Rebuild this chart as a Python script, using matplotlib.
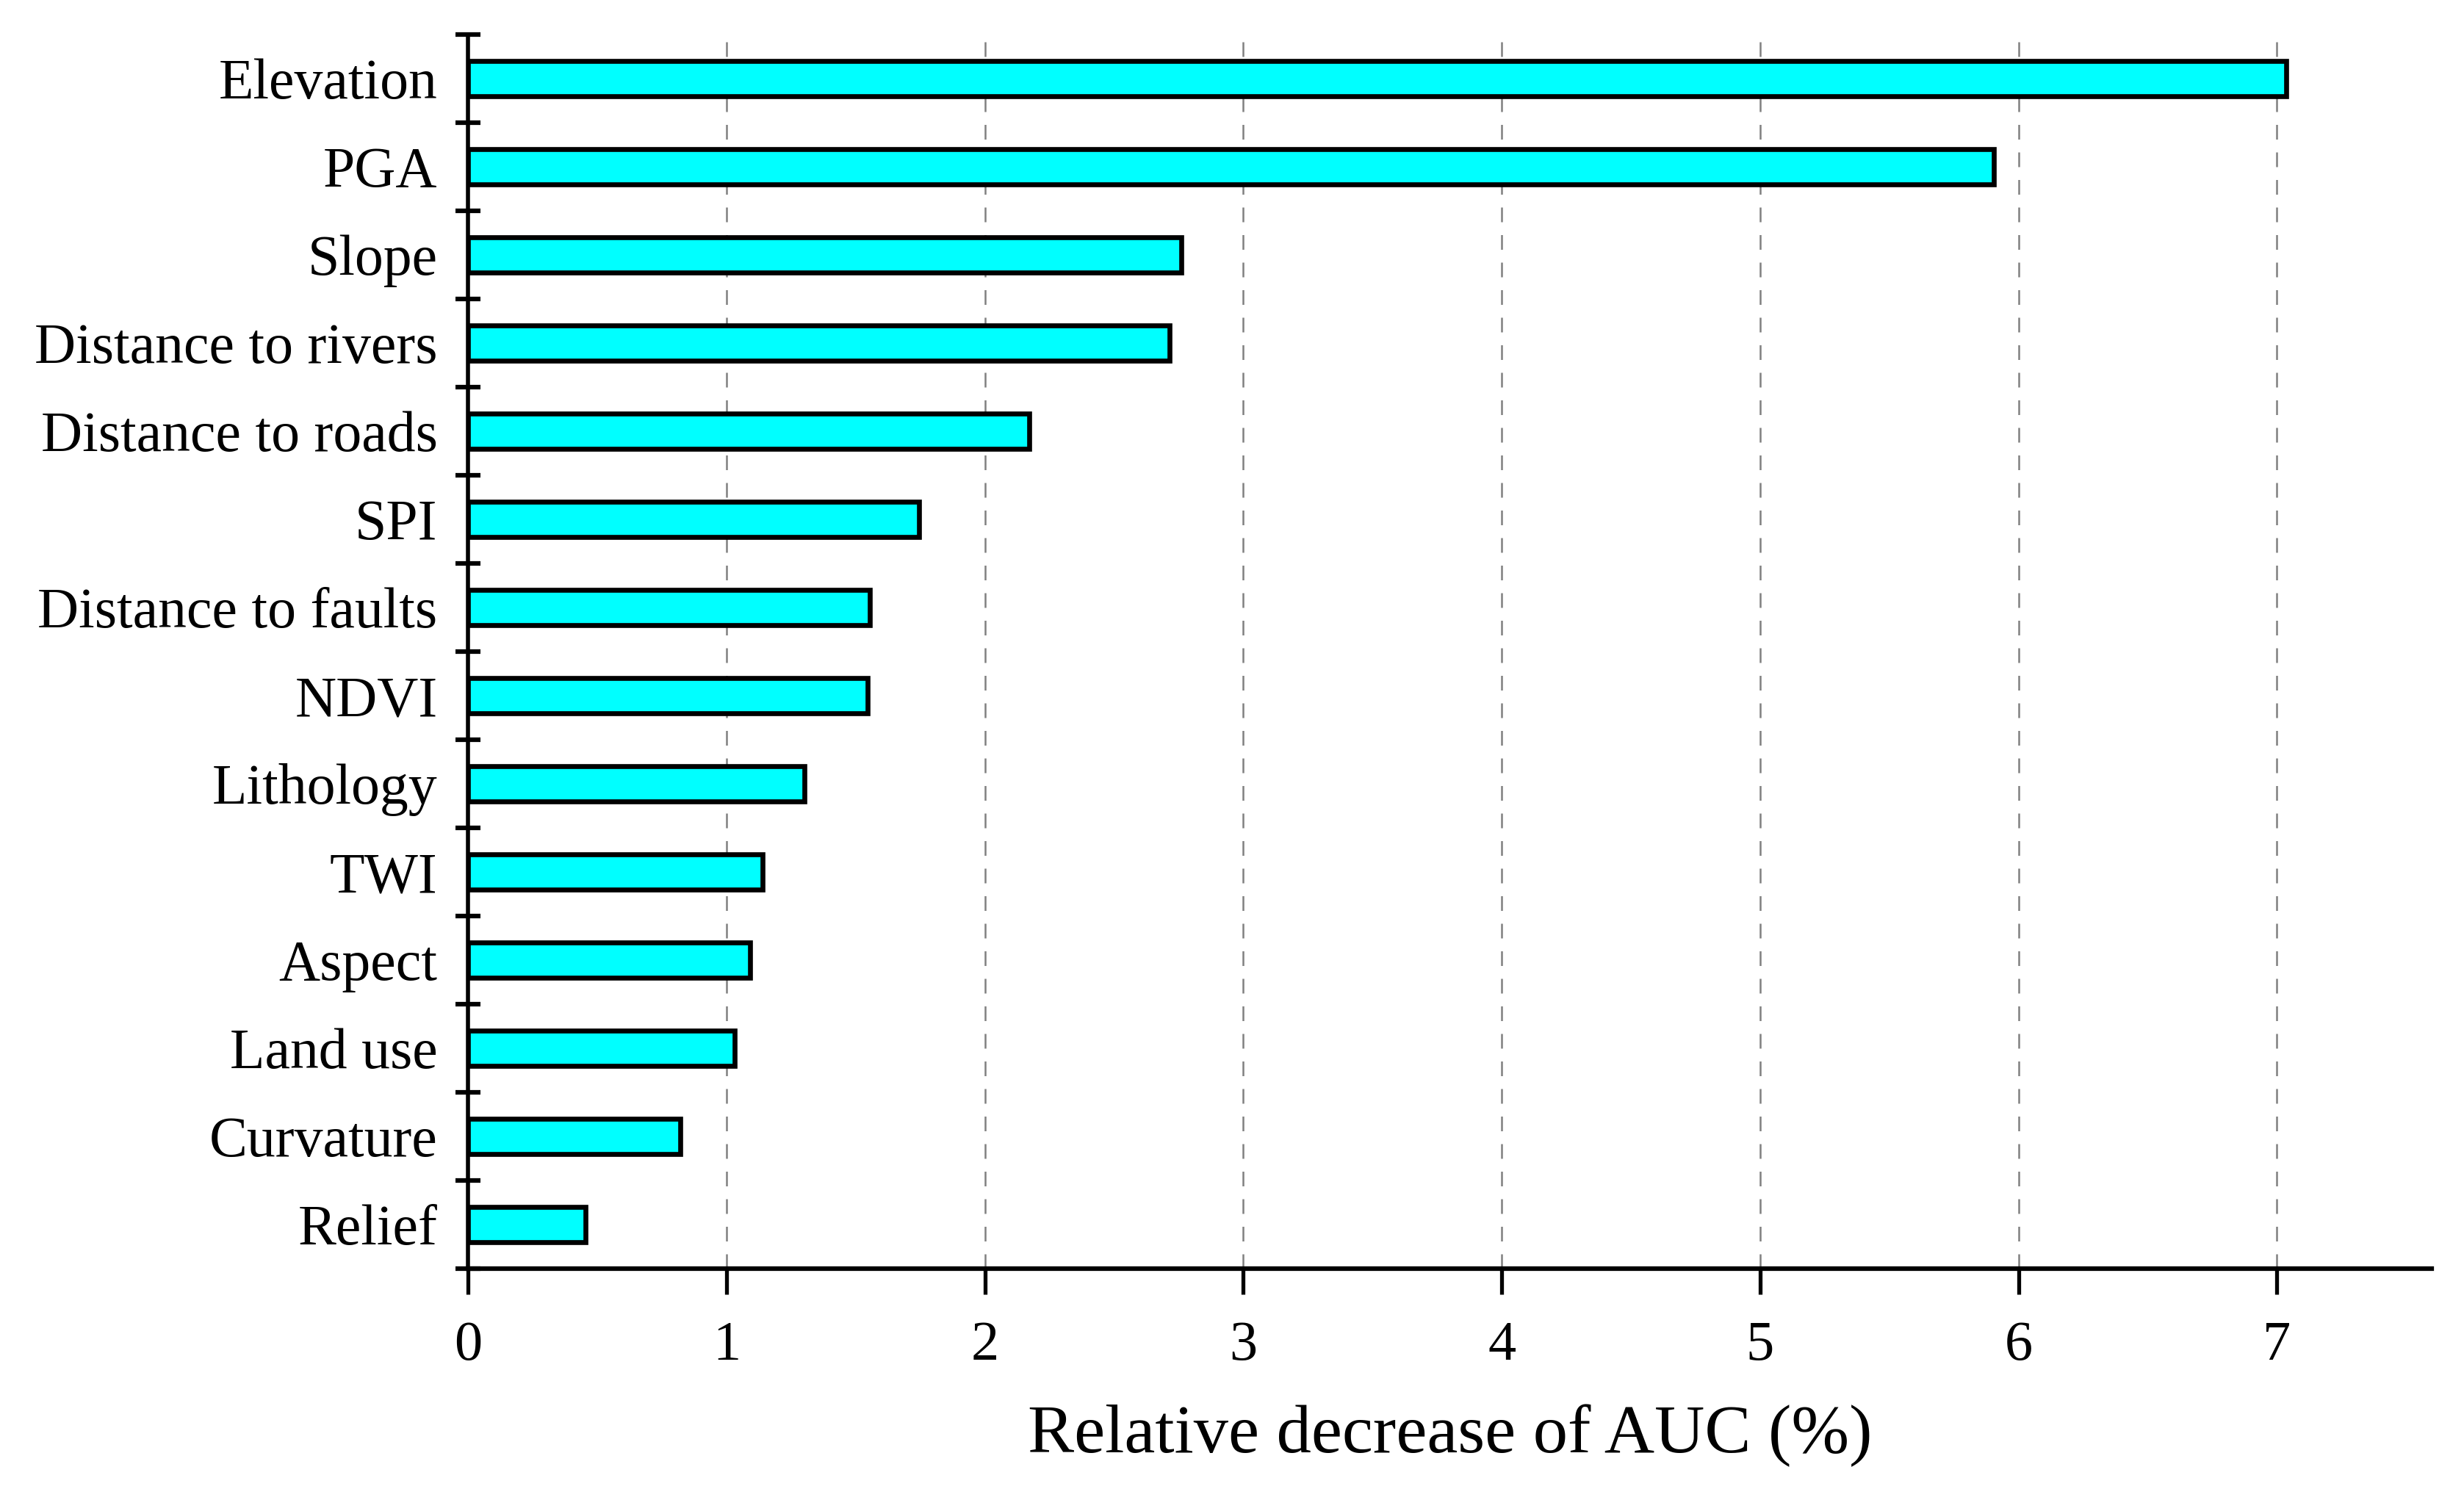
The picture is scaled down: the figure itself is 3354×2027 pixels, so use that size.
import matplotlib
matplotlib.use("Agg")
import matplotlib.pyplot as plt
import numpy as np

categories = ["Elevation", "PGA", "Slope", "Distance to rivers", "Distance to roads",
              "SPI", "Distance to faults", "NDVI", "Lithology", "TWI", "Aspect",
              "Land use", "Curvature", "Relief"]
values = [7.035, 5.905, 2.76, 2.715, 2.17, 1.745, 1.555, 1.545, 1.30, 1.14, 1.09,
          1.03, 0.82, 0.455]
xticks = [0, 1, 2, 3, 4, 5, 6, 7]
xlabel = "Relative decrease of AUC (%)"

plt.rcParams['font.family'] = ['Liberation Serif', 'DejaVu Serif']

fig = plt.figure(figsize=(33.54, 20.27), dpi=100)
ax = fig.add_axes([0.190, 0.148, 0.797, 0.829])

y = np.arange(len(categories))
ax.barh(y, values, height=0.4, color='#00FFFF', edgecolor='black', linewidth=4.8, zorder=3)

ax.set_xlim(0, 7.6)
ax.set_ylim(len(categories) - 0.5, -0.5)

ax.set_xticks(xticks)
ax.set_xticklabels([str(t) for t in xticks])
ax.set_yticks(y)
ax.set_yticklabels(categories)
ax.set_yticks(np.arange(-0.5, len(categories), 1.0), minor=True)

ax.tick_params(axis='y', which='major', length=0, labelsize=56, pad=30)
ax.tick_params(axis='y', which='minor', direction='inout', length=25, width=4.5)
ax.tick_params(axis='x', which='major', direction='out', length=25, width=3.8, labelsize=55, pad=26)

for s in ['top', 'right']:
    ax.spines[s].set_visible(False)
ax.spines['left'].set_linewidth(4.0)
ax.spines['bottom'].set_linewidth(4.5)

ax.xaxis.grid(True, which='major', color='#808080', linewidth=1.8,
              linestyle=(0, (8, 7)), zorder=0)
ax.set_axisbelow(True)

ax.set_xlabel(xlabel, fontsize=68, labelpad=32)

fig.savefig("out.png", dpi=100, facecolor='white')
